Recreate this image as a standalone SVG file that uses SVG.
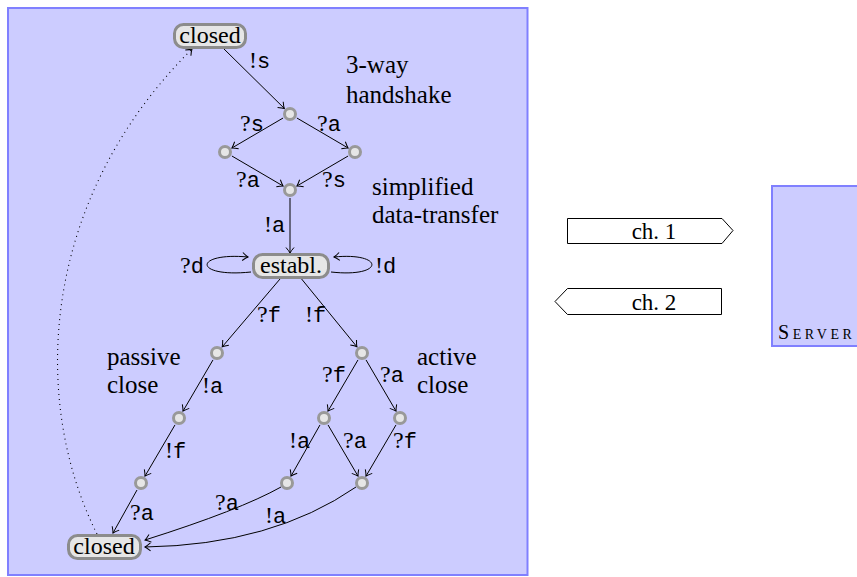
<svg xmlns="http://www.w3.org/2000/svg" width="857" height="577" viewBox="0 0 857 577">
<style>
.panel{fill:#ccccff;stroke:#8080ff;stroke-width:2}
.st{fill:#e6e6e6;stroke:#8c8c8c;stroke-width:3}
.pt{fill:#e6e6e6;stroke:#999999;stroke-width:3}
.e{fill:none;stroke:#000;stroke-width:1;marker-end:url(#arr)}
.dot{fill:none;stroke:#000;stroke-width:1.1;stroke-dasharray:1 4;marker-end:url(#arr)}
.ch{fill:#fff;stroke:#000;stroke-width:1}
</style>
<defs>
<marker id="arr" markerUnits="userSpaceOnUse" markerWidth="12" markerHeight="12" viewBox="-7 -6 8 12" refX="0" refY="0" orient="auto">
<path d="M -5.5 -4 Q -2 -1 0 0 Q -2 1 -5.5 4" fill="none" stroke="#000" stroke-width="1" stroke-dasharray="none"/>
</marker>
</defs>
<rect class="panel" x="8" y="8" width="519.5" height="567"/>
<rect class="panel" x="772" y="186" width="95" height="160"/>
<text x="778" y="338.5" font-family="'Liberation Serif', serif" font-size="20" font-variant="small-caps" letter-spacing="3.6">Server</text>

<g id="connectors">
<path class="e" d="M 223 48 L 284.3 108.4"/>
<path class="e" d="M 283.1 118 L 231.9 148"/>
<path class="e" d="M 296.9 118 L 348.1 148"/>
<path class="e" d="M 231.9 156 L 283.1 186"/>
<path class="e" d="M 348.1 156 L 296.9 186"/>
<path class="e" d="M 290 198 L 290 253"/>
<path class="e" d="M 251 272 C 193 278, 193 252, 248 257"/>
<path class="e" d="M 331 272 C 385 278, 385 252, 334 257"/>
<path class="e" d="M 280 279 L 222.2 346.9"/>
<path class="e" d="M 301.6 279 L 356.9 346.8"/>
<path class="e" d="M 213 359.9 L 183 411.1"/>
<path class="e" d="M 358 359.9 L 328 411.1"/>
<path class="e" d="M 366 359.9 L 396 411.1"/>
<path class="e" d="M 175 424.9 L 145 476.1"/>
<path class="e" d="M 320 424.9 L 291 476.1"/>
<path class="e" d="M 328 424.9 L 358 476.1"/>
<path class="e" d="M 396 424.9 L 366 476.1"/>
<path class="e" d="M 137 490 L 113 533"/>
<path class="e" d="M 281 487 Q 240 510 145 540"/>
<path class="e" d="M 356 487 Q 272 545 145 547"/>
<path class="dot" d="M 97 534 C 30 400, 40 200, 192 49"/>
</g>

<g id="edge-labels" font-family="'Liberation Serif', serif" font-size="24">
<text x="249" y="68">!<tspan font-family="'Liberation Mono', monospace" font-size="22">s</tspan></text>
<text x="240" y="131">?<tspan font-family="'Liberation Mono', monospace" font-size="22">s</tspan></text>
<text x="317" y="131">?<tspan font-family="'Liberation Mono', monospace" font-size="22">a</tspan></text>
<text x="236" y="187">?<tspan font-family="'Liberation Mono', monospace" font-size="22">a</tspan></text>
<text x="322" y="187">?<tspan font-family="'Liberation Mono', monospace" font-size="22">s</tspan></text>
<text x="264" y="232">!<tspan font-family="'Liberation Mono', monospace" font-size="22">a</tspan></text>
<text x="180" y="273">?<tspan font-family="'Liberation Mono', monospace" font-size="22">d</tspan></text>
<text x="375" y="273">!<tspan font-family="'Liberation Mono', monospace" font-size="22">d</tspan></text>
<text x="257" y="322">?<tspan font-family="'Liberation Mono', monospace" font-size="22">f</tspan></text>
<text x="305" y="322">!<tspan font-family="'Liberation Mono', monospace" font-size="22">f</tspan></text>
<text x="202" y="393">!<tspan font-family="'Liberation Mono', monospace" font-size="22">a</tspan></text>
<text x="322" y="382">?<tspan font-family="'Liberation Mono', monospace" font-size="22">f</tspan></text>
<text x="380" y="382">?<tspan font-family="'Liberation Mono', monospace" font-size="22">a</tspan></text>
<text x="165" y="458">!<tspan font-family="'Liberation Mono', monospace" font-size="22">f</tspan></text>
<text x="289" y="448">!<tspan font-family="'Liberation Mono', monospace" font-size="22">a</tspan></text>
<text x="343" y="448">?<tspan font-family="'Liberation Mono', monospace" font-size="22">a</tspan></text>
<text x="393" y="448">?<tspan font-family="'Liberation Mono', monospace" font-size="22">f</tspan></text>
<text x="130" y="520">?<tspan font-family="'Liberation Mono', monospace" font-size="22">a</tspan></text>
<text x="215" y="510">?<tspan font-family="'Liberation Mono', monospace" font-size="22">a</tspan></text>
<text x="265" y="523">!<tspan font-family="'Liberation Mono', monospace" font-size="22">a</tspan></text>
</g>

<g id="annotations" font-family="'Liberation Serif', serif" font-size="25">
<text x="346" y="73">3-way</text>
<text x="346" y="103">handshake</text>
<text x="372" y="195">simplified</text>
<text x="372" y="223">data-transfer</text>
<text x="107" y="365">passive</text>
<text x="107" y="393">close</text>
<text x="417" y="365">active</text>
<text x="417" y="393">close</text>
</g>

<g id="closed-top">
<rect class="st" x="174.5" y="24.5" width="71" height="23" rx="9"/>
<text x="210" y="43" text-anchor="middle" font-family="'Liberation Serif', serif" font-size="24">closed</text>
</g>
<g id="hs1"><circle class="pt" cx="290" cy="114" r="5.5"/></g>
<g id="hs2"><circle class="pt" cx="225" cy="152" r="5.5"/></g>
<g id="hs3"><circle class="pt" cx="355" cy="152" r="5.5"/></g>
<g id="hs4"><circle class="pt" cx="290" cy="190" r="5.5"/></g>
<g id="established">
<rect class="st" x="253.5" y="254.5" width="75" height="23" rx="9"/>
<text x="291" y="273" text-anchor="middle" font-family="'Liberation Serif', serif" font-size="24">establ.</text>
</g>
<g id="pc1"><circle class="pt" cx="217" cy="353" r="5.5"/></g>
<g id="ac1"><circle class="pt" cx="362" cy="353" r="5.5"/></g>
<g id="pc2"><circle class="pt" cx="179" cy="418" r="5.5"/></g>
<g id="ac2"><circle class="pt" cx="324" cy="418" r="5.5"/></g>
<g id="ac3"><circle class="pt" cx="400" cy="418" r="5.5"/></g>
<g id="pc3"><circle class="pt" cx="141" cy="483" r="5.5"/></g>
<g id="ac4"><circle class="pt" cx="287" cy="483" r="5.5"/></g>
<g id="ac5"><circle class="pt" cx="362" cy="483" r="5.5"/></g>
<g id="closed-bottom">
<rect class="st" x="68.5" y="535.5" width="72" height="23" rx="9"/>
<text x="104" y="554" text-anchor="middle" font-family="'Liberation Serif', serif" font-size="24">closed</text>
</g>

<g id="channel1">
<polygon class="ch" points="567.5,218.5 722,218.5 733,230.5 722,243.5 567.5,243.5"/>
<text x="654" y="239" text-anchor="middle" font-family="'Liberation Serif', serif" font-size="23">ch. 1</text>
</g>
<g id="channel2">
<polygon class="ch" points="567.5,288.5 721.5,288.5 721.5,314.5 567.5,314.5 555,301.5"/>
<text x="654" y="310" text-anchor="middle" font-family="'Liberation Serif', serif" font-size="23">ch. 2</text>
</g>
</svg>
